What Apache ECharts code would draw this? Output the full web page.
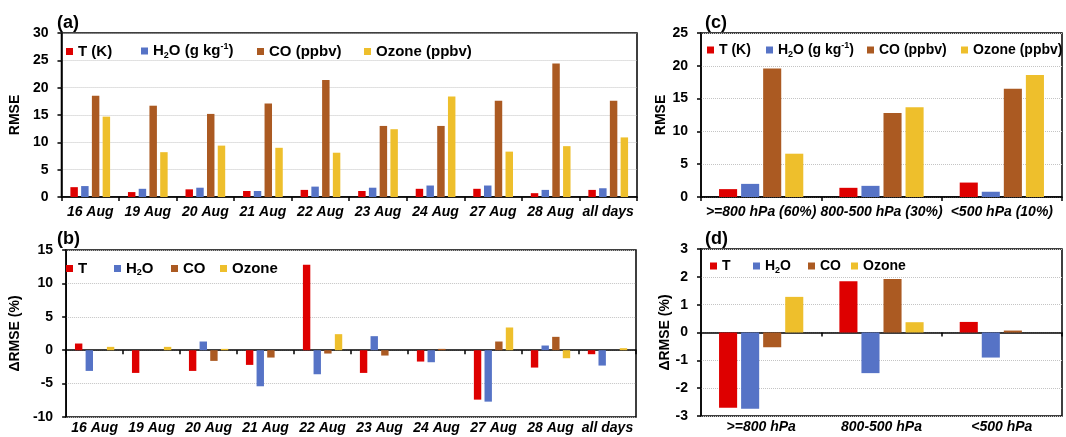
<!DOCTYPE html>
<html><head><meta charset="utf-8">
<script src="https://cdn.jsdelivr.net/npm/echarts@6/dist/echarts.min.js"></script>
<style>html,body{margin:0;padding:0;background:#fff}#c{width:1066px;height:437px}</style>
</head><body><div id="c"></div>
<script>
// ---- data ----
const days = ['16 Aug','19 Aug','20 Aug','21 Aug','22 Aug','23 Aug','24 Aug','27 Aug','28 Aug','all days'];
const rmseT     = [1.8, 0.9, 1.4, 1.1, 1.3, 1.1, 1.5, 1.5, 0.7, 1.3];
const rmseH2O   = [2.0, 1.5, 1.7, 1.1, 1.9, 1.7, 2.1, 2.1, 1.3, 1.6];
const rmseCO    = [18.5, 16.7, 15.2, 17.1, 21.4, 13.0, 13.0, 17.6, 24.4, 17.6];
const rmseOzone = [14.7, 8.2, 9.4, 9.0, 8.1, 12.4, 18.4, 8.3, 9.3, 10.9];

const dT     = [1.0, -3.4, -3.1, -2.2, 12.8, -3.4, -1.7, -7.4, -2.6, -0.6];
const dH2O   = [-3.1, 0, 1.3, -5.4, -3.6, 2.1, -1.8, -7.7, 0.7, -2.3];
const dCO    = [0, 0, -1.6, -1.1, -0.5, -0.8, 0.2, 1.3, 2.0, 0];
const dOzone = [0.5, 0.5, 0.2, 0, 2.4, 0, 0, 3.4, -1.2, 0.3];

const levels      = ['>=800 hPa (60%)', '800-500 hPa (30%)', '<500 hPa (10%)'];
const levelsShort = ['>=800 hPa', '800-500 hPa', '<500 hPa'];
const lvT     = [1.2, 1.4, 2.2];
const lvH2O   = [2.0, 1.7, 0.8];
const lvCO    = [19.6, 12.8, 16.5];
const lvOzone = [6.6, 13.7, 18.6];

const ldT     = [-2.7, 1.84, 0.38];
const ldH2O   = [-2.74, -1.46, -0.9];
const ldCO    = [-0.53, 1.92, 0.07];
const ldOzone = [1.28, 0.37, 0];

const yTicksA = [0, 30, 5];
const yTicksB = [-10, 15, 5];
const yTicksC = [0, 25, 5];
const yTicksD = [-3, 3, 1];

// ---- styling ----
const FONT = 'Liberation Sans, Arial, sans-serif';
const COL = {T:'#DE0000', H:'#5673C6', C:'#AB5A22', O:'#EEBF2C'};
const labelsMap = {
  aT:'{b|T (K)}', aH:'{b|H}{sub|2}{b|O (g kg}{sup|-1}{b|)}', aC:'{b|CO (ppbv)}', aO:'{b|Ozone (ppbv)}',
  bT:'{b|T}', bH:'{b|H}{sub|2}{b|O}', bC:'{b|CO}', bO:'{b|Ozone}',
  cT:'{b|T (K)}', cH:'{b|H}{sub|2}{b|O (g kg}{sup|-1}{b|)}', cC:'{b|CO (ppbv)}', cO:'{b|Ozone (ppbv)}',
  dT:'{b|T}', dH:'{b|H}{sub|2}{b|O}', dC:'{b|CO}', dO:'{b|Ozone}'
};
function richFor(fs){
  return {
    b:{fontFamily:FONT, fontWeight:'bold', fontSize:fs, color:'#000', lineHeight:18},
    sub:{fontFamily:FONT, fontWeight:'bold', fontSize:9, color:'#000', lineHeight:12, verticalAlign:'bottom'},
    sup:{fontFamily:FONT, fontWeight:'bold', fontSize:9, color:'#000', lineHeight:12, verticalAlign:'top'}
  };
}
function legend(name, left, cy, fs, dy){
  return {data:[{name:name}], left:left, top:cy-6+(dy||0), padding:0, icon:'rect', itemWidth:7, itemHeight:7,
    selectedMode:false, formatter:n=>labelsMap[n], textStyle:{rich:richFor(fs)}};
}
function grid(left, top, width, height){
  return {left:left, top:top, width:width, height:height, show:true, borderColor:'#000', borderWidth:1.5, backgroundColor:'transparent'};
}
const xLabel = {show:true, interval:0, margin:8, color:'#000', fontFamily:FONT, fontWeight:'bold', fontStyle:'italic', fontSize:14};
function xCat(gi, data, opts){
  const base = {type:'category', gridIndex:gi, data:data,
    axisLine:{show:true, onZero:false, lineStyle:{color:'#000', width:1.5}},
    axisTick:{show:true, interval:0, length:4, lineStyle:{color:'#000', width:1.5}},
    axisLabel:xLabel,
    splitLine:{show:false}};
  return Object.assign(base, opts||{});
}
function yVal(gi, t, name){
  return {type:'value', gridIndex:gi, min:t[0], max:t[1], interval:t[2], name:name, nameLocation:'middle', nameGap:24,
    nameTextStyle:{color:'#000', fontFamily:FONT, fontWeight:'bold', fontSize:14},
    axisLine:{show:true, lineStyle:{color:'#000', width:1.5}},
    axisTick:{show:true, length:4, lineStyle:{color:'#000', width:1.5}},
    axisLabel:{color:'#000', fontFamily:FONT, fontWeight:'bold', fontSize:14, margin:13},
    splitLine:{show:true, lineStyle:{color:'#c4c4c4', type:'dotted', width:1}}};
}
function bar(name, data, xi, yi, color, catGap, barGap){
  return {type:'bar', name:name, data:data, xAxisIndex:xi, yAxisIndex:yi, barCategoryGap:catGap, barGap:barGap,
    itemStyle:{color:color}, animation:false};
}
function title(text, left, top){
  return {text:text, left:left, top:top, padding:0, textStyle:{fontFamily:FONT, fontWeight:'bold', fontSize:18, color:'#000'}};
}

const option = {
  animation:false,
  title:[title('(a)',57,14), title('(b)',57,230), title('(c)',705,14), title('(d)',705,230)],
  grid:[grid(55,33,582,164), grid(55,250,581,167), grid(701,33,361,164), grid(701,249,361,167)],
  legend:[
    legend('aT',66,50,15), legend('aH',141,50,15,-2), legend('aC',257,50,15), legend('aO',364,50,15),
    legend('bT',66,267,15), legend('bH',114,267,15), legend('bC',171,267,15), legend('bO',220,267,15),
    legend('cT',707,49,14), legend('cH',766,49,14,-2), legend('cC',867,49,14), legend('cO',961,49,14),
    legend('dT',710,265,14), legend('dH',753,265,14), legend('dC',808,265,14), legend('dO',851,265,14)
  ],
  xAxis:[
    xCat(0, days),
    xCat(1, days, {axisLine:{show:true, onZero:true, lineStyle:{color:'#000', width:1.5}}, axisLabel:{show:false}}),
    xCat(1, days, {position:'bottom', axisLine:{show:false, onZero:false}, axisTick:{show:false},
      axisLabel:Object.assign({}, xLabel, {margin:4})}),
    xCat(2, levels),
    xCat(3, levelsShort, {axisLine:{show:true, onZero:true, lineStyle:{color:'#000', width:1.5}}, axisLabel:{show:false}}),
    xCat(3, levelsShort, {position:'bottom', axisLine:{show:false, onZero:false}, axisTick:{show:false},
      axisLabel:Object.assign({}, xLabel, {margin:4})})
  ],
  yAxis:[
    yVal(0, yTicksA, 'RMSE'),
    yVal(1, yTicksB, '\u0394RMSE (%)'),
    yVal(2, yTicksC, 'RMSE'),
    yVal(3, yTicksD, '\u0394RMSE (%)')
  ],
  series:[
    bar('aT', rmseT, 0, 0, COL.T, '31%', '44%'),
    bar('aH', rmseH2O, 0, 0, COL.H, '31%', '44%'),
    bar('aC', rmseCO, 0, 0, COL.C, '31%', '44%'),
    bar('aO', rmseOzone, 0, 0, COL.O, '31%', '44%'),
    bar('bT', dT, 1, 1, COL.T, '31%', '44%'),
    bar('bH', dH2O, 1, 1, COL.H, '31%', '44%'),
    bar('bC', dCO, 1, 1, COL.C, '31%', '44%'),
    bar('bO', dOzone, 1, 1, COL.O, '31%', '44%'),
    bar('cT', lvT, 3, 2, COL.T, '30%', '22%'),
    bar('cH', lvH2O, 3, 2, COL.H, '30%', '22%'),
    bar('cC', lvCO, 3, 2, COL.C, '30%', '22%'),
    bar('cO', lvOzone, 3, 2, COL.O, '30%', '22%'),
    bar('dT', ldT, 4, 3, COL.T, '30%', '22%'),
    bar('dH', ldH2O, 4, 3, COL.H, '30%', '22%'),
    bar('dC', ldCO, 4, 3, COL.C, '30%', '22%'),
    bar('dO', ldOzone, 4, 3, COL.O, '30%', '22%')
  ]
};
const chart = echarts.init(document.getElementById('c'), null, {renderer:'canvas'});
chart.setOption(option);
</script></body></html>
